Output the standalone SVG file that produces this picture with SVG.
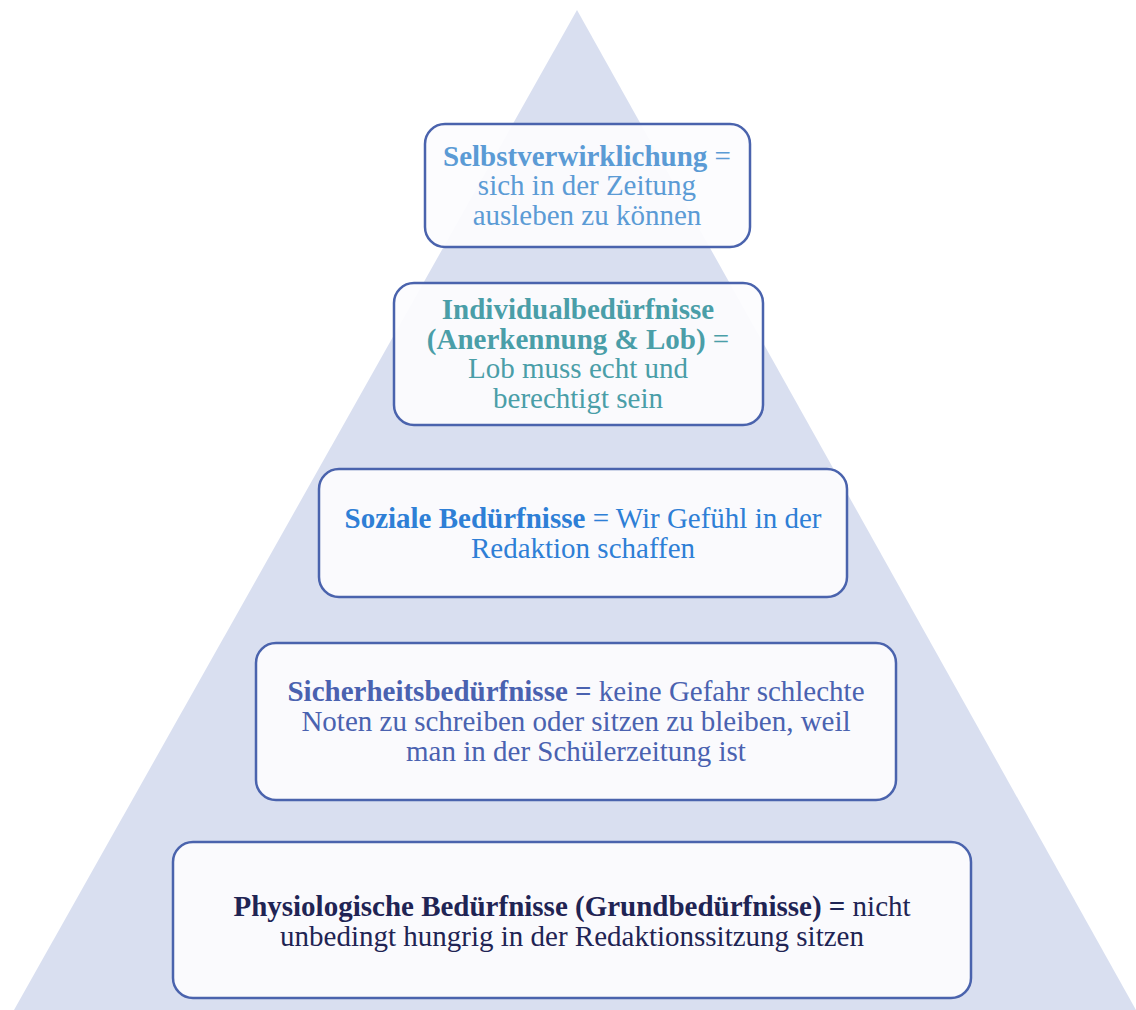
<svg xmlns="http://www.w3.org/2000/svg" width="1136" height="1010" viewBox="0 0 1136 1010">
<style>
.box{fill:#fcfcfe;fill-opacity:0.93;stroke:#4a63ad;stroke-width:2.5}
text{font-family:"Liberation Serif","Times New Roman",serif;font-size:29px;text-anchor:middle}
.b{font-weight:bold}
</style>
<rect width="1136" height="1010" fill="#ffffff"/>
<polygon points="577,10 14,1010 1136,1010" fill="#d9dff0"/>
<g id="n1">
<rect class="box" x="425" y="124" width="325" height="123" rx="20"/>
<text x="587" y="166" fill="#5b9bd5"><tspan class="b">Selbstverwirklichung</tspan> =</text>
<text x="587" y="195" fill="#5b9bd5">sich in der Zeitung</text>
<text x="587" y="225" fill="#5b9bd5">ausleben zu können</text>
</g>
<g id="n2">
<rect class="box" x="394" y="283" width="369" height="142" rx="20"/>
<text x="578" y="319" fill="#4a9ea8" class="b">Individualbedürfnisse</text>
<text x="578" y="349" fill="#4a9ea8"><tspan class="b">(Anerkennung &amp; Lob)</tspan> =</text>
<text x="578" y="378" fill="#4a9ea8">Lob muss echt und</text>
<text x="578" y="408" fill="#4a9ea8">berechtigt sein</text>
</g>
<g id="n3">
<rect class="box" x="319" y="469" width="528" height="128" rx="20"/>
<text x="583" y="528" fill="#2e7fd6"><tspan class="b">Soziale Bedürfnisse</tspan> = Wir Gefühl in der</text>
<text x="583" y="558" fill="#2e7fd6">Redaktion schaffen</text>
</g>
<g id="n4">
<rect class="box" x="256" y="643" width="640" height="157" rx="20"/>
<text x="576" y="701" fill="#4a62b0"><tspan class="b">Sicherheitsbedürfnisse =</tspan> keine Gefahr schlechte</text>
<text x="576" y="731" fill="#4a62b0">Noten zu schreiben oder sitzen zu bleiben, weil</text>
<text x="576" y="761" fill="#4a62b0">man in der Schülerzeitung ist</text>
</g>
<g id="n5">
<rect class="box" x="173" y="842" width="798" height="156" rx="20"/>
<text x="572" y="916" fill="#1f2454"><tspan class="b">Physiologische Bedürfnisse (Grundbedürfnisse) =</tspan> nicht</text>
<text x="572" y="946" fill="#1f2454">unbedingt hungrig in der Redaktionssitzung sitzen</text>
</g>
<g id="connectors"></g>
</svg>
